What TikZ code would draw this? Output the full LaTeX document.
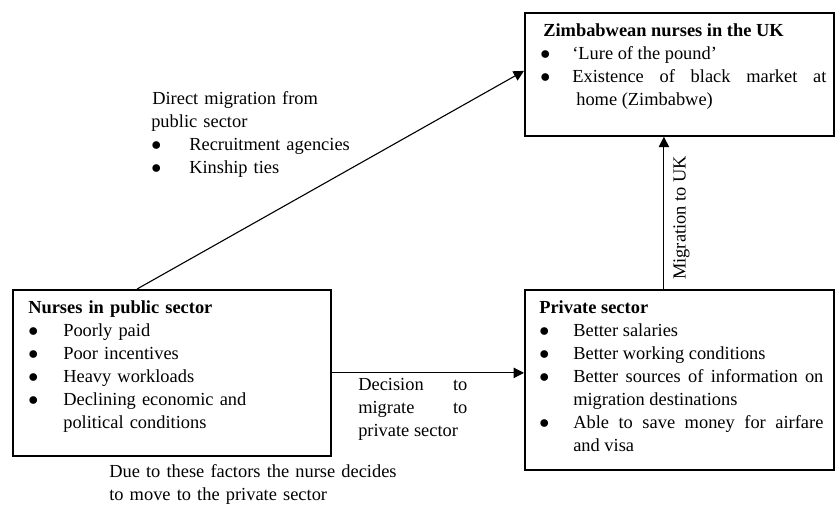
\documentclass[tikz,border=0pt]{standalone}
\usepackage{fontspec}
\setmainfont{Liberation Serif}
\usepackage{tikz}
\usetikzlibrary{arrows.meta, positioning}

% bullet line, the text kept in its own column
\newcommand{\bul}[2][0.34in]{\par\noindent\makebox[#1][l]{$\bullet$}%
    \parbox[t]{\dimexpr\linewidth-#1\relax}{#2\par\xdef\bulpd{\the\prevdepth}}%
    \par\prevdepth=\bulpd\relax}

\tikzset{
    box/.style={draw, line width=1.2pt, rectangle, inner sep=0pt, anchor=north west},
    txt/.style={inner sep=0pt, anchor=base west, font=\fontsize{13.3}{16.5}\selectfont},
    conn/.style={draw, line width=0.8pt, -{Triangle[length=7.5pt, width=7.5pt]}}
}

\begin{document}
\begin{tikzpicture}[x=0.01in, y=-0.01in]
                    \useasboundingbox (0, 0) rectangle (835, 505);

                    % the three boxes
                    \node[box, minimum width=3.18in, minimum height=1.66in] (pub) at (12, 289) {};
                    \node[box, minimum width=3.09in, minimum height=1.80in] (priv) at (524, 289) {};
                    \node[box, minimum width=3.09in, minimum height=1.23in] (uk) at (524, 12) {};

                    % texts in the boxes
                    \node[txt, text width=2.9in, align=left] (pubtxt) at (28, 314) {%
                        \textbf{Nurses in public sector}
                        \bul[0.35in]{Poorly paid}
                        \bul[0.35in]{Poor incentives}
                        \bul[0.35in]{Heavy workloads}
                        \bul[0.35in]{Declining economic and\\ political conditions}};
                    \node[txt, text width=2.84in, align=justify] (privtxt) at (539, 314) {%
                        \textbf{Private sector}
                        \bul{Better salaries}
                        \bul{Better working conditions}
                        \bul{Better sources of information on\linebreak migration destinations}
                        \bul{Able to save money for airfare\linebreak and visa}};
                    \node[txt, text width=2.86in, align=justify] (uktxt) at (540, 37) {%
                        \hspace*{0.03in}\textbf{Zimbabwean nurses in the UK}
                        \bul[0.32in]{`Lure of the pound'}
                        \bul[0.32in]{Existence of black market at\linebreak \hspace*{0.04in}home (Zimbabwe)}};

                    % texts beside the connectors
                    \node[txt, text width=2.3in, align=left] (dirtxt) at (151, 105) {%
                        \hspace*{0.01in}Direct migration from\newline public sector
                        \bul[0.38in]{Recruitment agencies}
                        \bul[0.38in]{Kinship ties}};
                    \node[txt, text width=1.09in, align=justify] (dectxt) at (358, 391) {%
                        Decision to\linebreak migrate to\linebreak private sector};
                    \node[txt, text width=3in, align=left] (duetxt) at (109, 478) {%
                        Due to these factors the nurse decides\newline to move to the private sector};

                    % connectors
                    \coordinate (mig) at ([xshift=-0.155in]priv.north);
                    \draw[conn] ([xshift=1.25in]pub.north west) -- ([yshift=0.035in]uk.west);
                    \draw[conn] (pub.east) -- (pub.east -| priv.west);
                    \draw[conn] (mig) -- (mig |- uk.south)
                        node[midway, sloped, below, xshift=-0.05in, inner sep=6.5pt, font=\fontsize{13.3}{16.5}\selectfont] (miglbl) {Migration to UK};
                \end{tikzpicture}
\end{document}
